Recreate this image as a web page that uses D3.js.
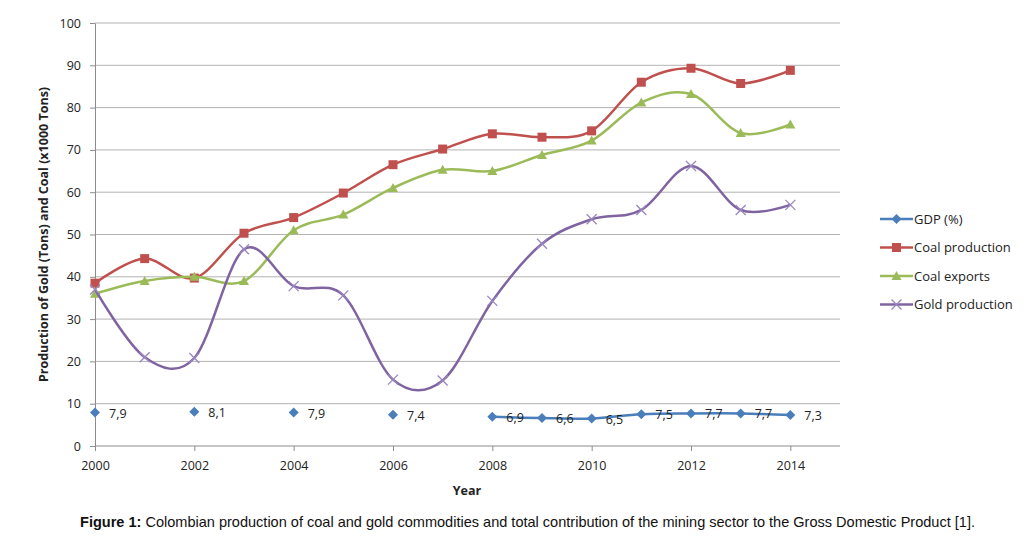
<!DOCTYPE html>
<html>
<head>
<meta charset="utf-8">
<script src="https://cdn.jsdelivr.net/npm/d3@7"></script>
<style>
  body { margin: 0; background: #fff; }
  svg text { font-family: "Open Sans", "DejaVu Sans", sans-serif; }
  svg text.caption { font-family: "Liberation Sans Narrow", "Liberation Sans", Arial, sans-serif; }
</style>
</head>
<body>
<svg id="chart" width="1030" height="540"></svg>
<script>
// chart values
const years = [2000, 2001, 2002, 2003, 2004, 2005, 2006, 2007, 2008, 2009, 2010, 2011, 2012, 2013, 2014];
const coalProduction = [38.5, 44.3, 39.7, 50.3, 54, 59.8, 66.5, 70.2, 73.8, 73, 74.5, 86, 89.3, 85.7, 88.8];
const coalExports = [36, 39, 40, 39, 51, 54.7, 61, 65.3, 65, 68.8, 72.2, 81.2, 83.2, 74, 76];
const goldProduction = [37, 21, 20.8, 46.5, 37.8, 35.6, 15.7, 15.5, 34.3, 47.8, 53.6, 55.8, 66.2, 55.8, 57];
const gdp = [7.9, null, 8.1, null, 7.9, null, 7.4, null, 6.9, 6.6, 6.5, 7.5, 7.7, 7.7, 7.3];
const yTicks = [0, 10, 20, 30, 40, 50, 60, 70, 80, 90, 100];
const xTicks = [2000, 2002, 2004, 2006, 2008, 2010, 2012, 2014];

const series = [
  {name: 'GDP (%)', values: gdp, color: '#4a7ebb', marker: 'diamond'},
  {name: 'Coal production', values: coalProduction, color: '#c0504d', marker: 'square'},
  {name: 'Coal exports', values: coalExports, color: '#9bbb59', marker: 'triangle'},
  {name: 'Gold production', values: goldProduction, color: '#8064a2', marker: 'cross'}
];

const frame = {left: 95, top: 23, right: 840, bottom: 446};
const svg = d3.select('#chart');

const x = d3.scaleLinear().domain([2000, 2015]).range([frame.left, frame.right]);
const y = d3.scaleLinear().domain([0, 100]).range([frame.bottom, frame.top]);

// gridlines
svg.append('g').selectAll('line').data(yTicks.slice(1)).join('line')
  .attr('x1', frame.left).attr('x2', frame.right)
  .attr('y1', d => y(d)).attr('y2', d => y(d))
  .attr('stroke', '#b3b3b3').attr('stroke-width', 1);

// axes
const yAxis = svg.append('g').attr('transform', `translate(${frame.left},0)`)
  .call(d3.axisLeft(y).tickValues(yTicks).tickSize(5).tickPadding(9).tickSizeOuter(0));
const xAxis = svg.append('g').attr('transform', `translate(0,${frame.bottom})`)
  .call(d3.axisBottom(x).tickValues(xTicks).tickFormat(d3.format('d')).tickSize(5).tickPadding(10).tickSizeOuter(0));
[yAxis, xAxis].forEach(a => {
  a.select('.domain').attr('stroke', '#8c8c8c');
  a.selectAll('.tick line').attr('stroke', '#8c8c8c');
  a.selectAll('text').attr('font-size', 12.5).attr('fill', '#222');
});
xAxis.select('.domain').attr('d', `M${frame.left},0H${frame.right}`);

// axis titles
svg.append('text').attr('transform', `translate(48,${(frame.top + frame.bottom) / 2}) rotate(-90)`)
  .attr('text-anchor', 'middle').attr('font-size', 12.5).attr('font-weight', 'bold').attr('fill', '#222')
  .text('Production of Gold (Tons) and Coal (x1000 Tons)');
svg.append('text').attr('x', 467).attr('y', 495)
  .attr('text-anchor', 'middle').attr('font-size', 12.5).attr('font-weight', 'bold').attr('fill', '#222')
  .text('Year');

function markerPath(type) {
  switch (type) {
    case 'diamond': return 'M0,-5L5,0L0,5L-5,0Z';
    case 'square': return 'M-4.5,-4.5H4.5V4.5H-4.5Z';
    case 'triangle': return 'M0,-5L5,4L-5,4Z';
    case 'cross': return 'M-5,-5L5,5M5,-5L-5,5';
  }
}
function drawMarker(g, s, px, py) {
  const p = g.append('path').attr('d', markerPath(s.marker))
    .attr('transform', `translate(${px},${py})`);
  if (s.marker === 'cross') p.attr('fill', 'none').attr('stroke', '#9a86c0').attr('stroke-width', 1.3);
  else p.attr('fill', s.color);
}

const line = d3.line()
  .defined(d => d[1] != null)
  .x(d => x(d[0])).y(d => y(d[1]))
  .curve(d3.curveCatmullRom.alpha(0));

series.forEach(s => {
  const pts = years.map((yr, i) => [yr, s.values[i]]);
  const g = svg.append('g');
  g.append('path').datum(pts).attr('d', line)
    .attr('fill', 'none').attr('stroke', s.color).attr('stroke-width', 2.5);
  pts.filter(d => d[1] != null).forEach(d => drawMarker(g, s, x(d[0]), y(d[1])));
});

// GDP data labels
svg.append('g').selectAll('text').data(years.map((yr, i) => [yr, gdp[i]]).filter(d => d[1] != null)).join('text')
  .attr('x', d => x(d[0]) + 14).attr('y', d => y(d[1]) + 5)
  .attr('font-size', 12.5).attr('fill', '#222')
  .text(d => String(d[1]).replace('.', ','));

// legend
const legend = svg.append('g');
series.forEach((s, i) => {
  const ly = 219 + i * 28.5;
  legend.append('line').attr('x1', 880).attr('x2', 913).attr('y1', ly).attr('y2', ly)
    .attr('stroke', s.color).attr('stroke-width', 2.5);
  drawMarker(legend, s, 896.5, ly);
  legend.append('text').attr('x', 914).attr('y', ly + 4.5)
    .attr('font-size', 13).attr('fill', '#222').text(s.name);
});

// caption
const cap = svg.append('text').attr('class', 'caption').attr('x', 80).attr('y', 527)
  .attr('font-size', 15).attr('fill', '#111')
  .attr('textLength', 895).attr('lengthAdjust', 'spacingAndGlyphs');
cap.append('tspan').attr('font-weight', 'bold').text('Figure 1:');
cap.append('tspan').text(' Colombian production of coal and gold commodities and total contribution of the mining sector to the Gross Domestic Product [1].');
</script>
</body>
</html>
